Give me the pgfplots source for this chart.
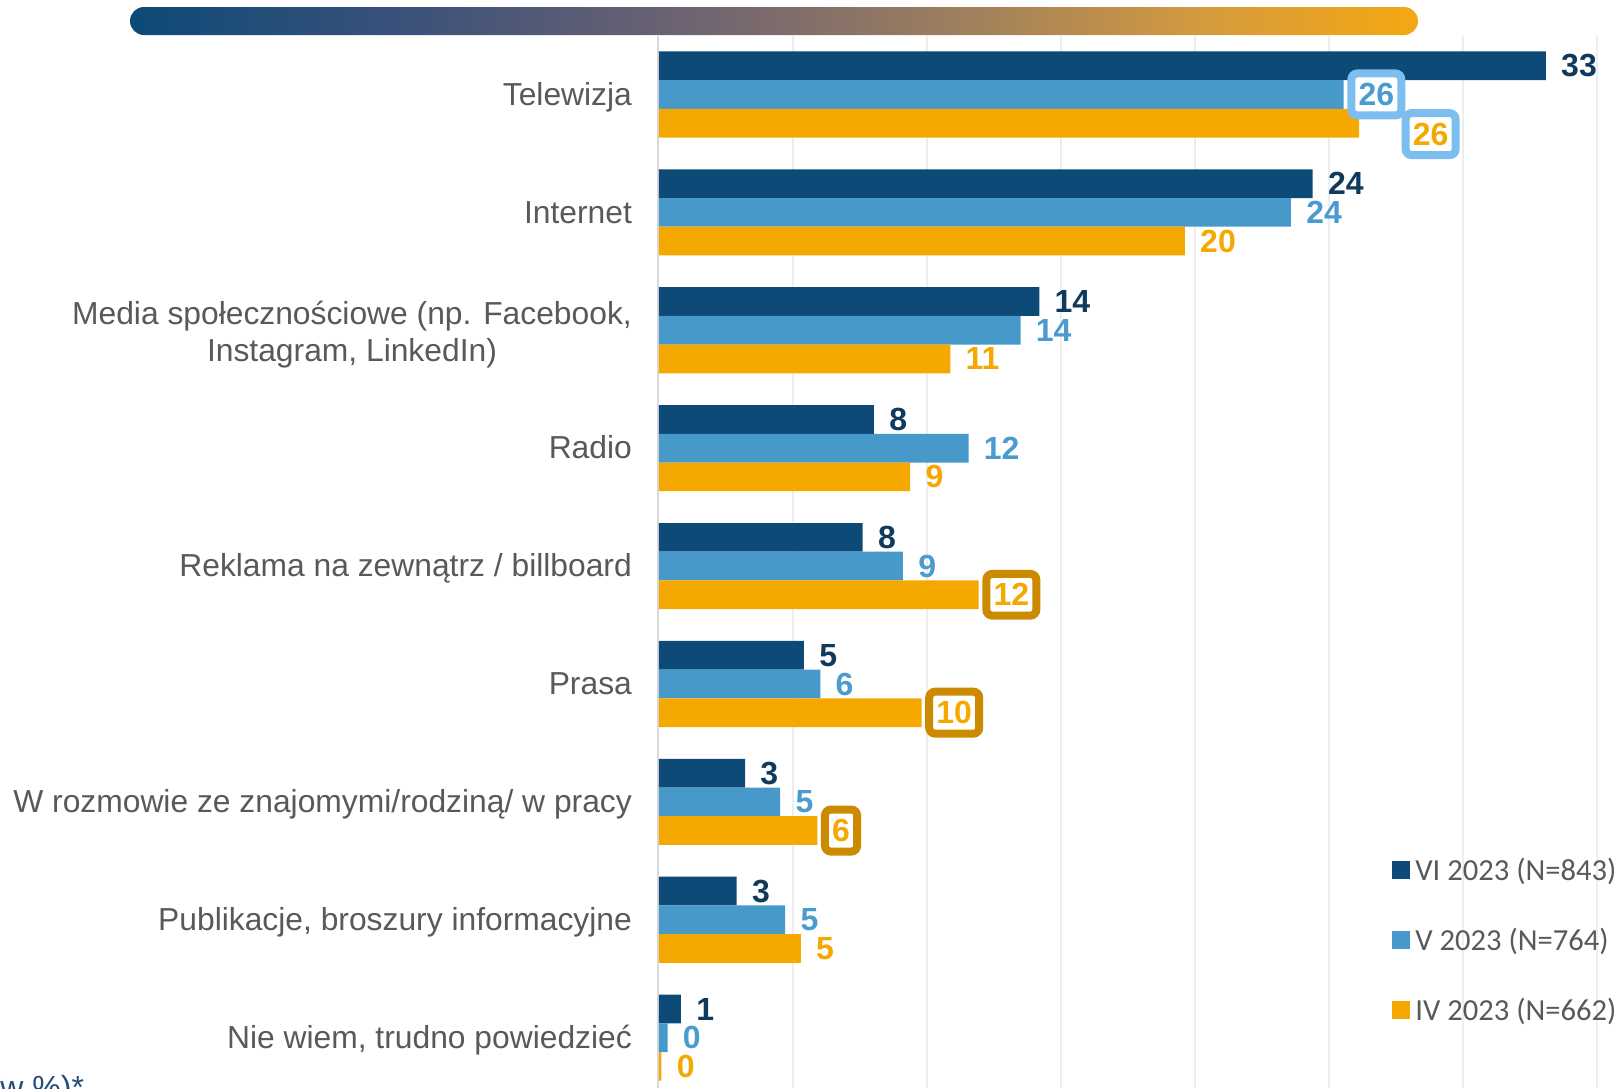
\documentclass[border=0pt]{standalone}
\usepackage{fontspec}
\setmainfont{Liberation Sans}
\newfontfamily\legfont{Carlito}
\usepackage{pgfplots}
\pgfplotsset{compat=1.18}
\usepackage{pgfplotstable}

\definecolor{cVI}{HTML}{0D4A77}
\definecolor{cV}{HTML}{4799C9}
\definecolor{cIV}{HTML}{F5A800}
\definecolor{tVI}{HTML}{0F3A5E}
\definecolor{tV}{HTML}{4A9BCE}
\definecolor{tIV}{HTML}{F5A800}
\definecolor{txt}{HTML}{595959}
\definecolor{gridc}{HTML}{EEEEEE}
\definecolor{axc}{HTML}{D9D9D9}
\definecolor{boxgold}{HTML}{CC8A00}
\definecolor{boxblue}{HTML}{7BBEEF}
\definecolor{navytxt}{HTML}{1F4E79}
\definecolor{g0}{HTML}{0D4A77}
\definecolor{g1}{HTML}{3C527A}
\definecolor{g2}{HTML}{6F6472}
\definecolor{g3}{HTML}{A2815C}
\definecolor{g4}{HTML}{D69B3C}
\definecolor{g5}{HTML}{F4A812}
\pgfdeclarehorizontalshading{topbar}{100bp}{color(0bp)=(g0); color(25bp)=(g0); color(36bp)=(g1); color(47bp)=(g2); color(58bp)=(g3); color(67bp)=(g4); color(75bp)=(g5); color(100bp)=(g5)}

% VI 2023
\pgfplotstableread{
x y lab
33.09 -0.2434 33
24.39 0.7566 24
14.19 1.7566 14
8.02 2.7566 8
7.60 3.7566 8
5.41 4.7566 5
3.21 5.7566 3
2.90 6.7566 3
0.82 7.7566 1
}\tVI
% V 2023
\pgfplotstableread{
x y lab
25.55 0 {}
23.58 1 24
13.49 2 14
11.55 3 12
9.10 4 9
6.02 5 6
4.52 6 5
4.71 7 5
0.32 8 0
}\tV
% IV 2023
\pgfplotstableread{
x y lab
26.12 0.2434 {}
19.62 1.2434 20
10.87 2.2434 11
9.37 3.2434 9
11.93 4.2434 {}
9.80 5.2434 {}
5.91 6.2434 {}
5.29 7.2434 5
0.09 8.2434 0
}\tIV
\pgfplotstableread{
x y lab
25.55 0 26
}\tVbox
\pgfplotstableread{
x y lab
26.12 0.2434 26
}\tIVboxblue
\pgfplotstableread{
x y lab
11.93 4.2434 12
9.80 5.2434 10
5.91 6.2434 6
}\tIVboxgold

\pgfplotsset{
  lab/.style={nodes near coords, nodes near coords style={font=\bfseries\fontsize{16}{16}\selectfont, text=#1, inner sep=0pt, anchor=west, xshift=7.5pt}},
  boxlab/.style n args={4}{forget plot, draw=none, fill=none, nodes near coords,
     nodes near coords style={font=\bfseries\fontsize{16}{16}\selectfont, text=#1, draw=#2, line width=4pt, fill=white, rounded corners=3pt, inner xsep=3.6pt, inner ysep=4.85pt, outer sep=2pt, anchor=west, xshift=#3, yshift=#4}},
}

\begin{document}
\begin{tikzpicture}
\useasboundingbox (0,0) rectangle (809pt,-544pt);
\shade[shading=topbar, rounded corners=7pt] (65pt,-3.5pt) rectangle (709pt,-17.5pt);
\node[anchor=base west, inner sep=0pt, text=navytxt, font=\fontsize{16}{16}\selectfont] at (-5.3pt,-549pt) {(w \%)*};
\begin{axis}[
  at={(329.5pt,-17.75pt)}, anchor=north west,
  scale only axis, width=469pt, height=526.25pt,
  xmin=0, xmax=35, ymin=-0.5, ymax=8.427, y dir=reverse,
  axis line style={draw=none},
  tick style={draw=none},
  xtick={5,10,...,35}, xticklabels={},
  xmajorgrids, major grid style={draw=gridc, line width=0.75pt},
  ytick={0,...,8},
  yticklabels={\strut Telewizja, \strut Internet, {\strut Media społecznościowe (np. Facebook,\\ Instagram, LinkedIn)}, \strut Radio, \strut Reklama na zewnątrz / billboard, \strut Prasa, \strut W rozmowie ze znajomymi/rodziną/ w pracy, {\strut Publikacje, broszury informacyjne}, {\strut Nie wiem, trudno powiedzieć}},
  yticklabel style={font=\fontsize{15.9}{18.6}\selectfont, text=txt, align=center, anchor=east, inner sep=0pt, xshift=-9.1pt, yshift=-1.6pt},
  xbar, bar width=14.35pt, bar shift=0pt,
  clip=false,
  point meta=explicit symbolic,
  legend style={at={(axis cs:27.35,6.47)}, anchor=north west, draw=none, fill=none, inner sep=0pt, font=\legfont\fontsize{15.3}{15.3}\selectfont, text=txt, row sep=22.3pt, column sep=2.5pt, nodes={inner sep=0pt}},
  legend cell align=left,
  legend image code/.code={\fill[#1] (0pt,-4.5pt) rectangle (9pt,4.5pt);},
]
\draw[axc, line width=1pt] ([xshift=-0.5pt]axis cs:0,-0.5) -- ([xshift=-0.5pt]axis cs:0,8.427);
\addplot[fill=cVI, draw=none, lab=tVI] table[x=x, y=y, meta=lab] {\tVI};
\addlegendentry{VI 2023 (N=843)}
\addplot[fill=cV, draw=none, lab=tV] table[x=x, y=y, meta=lab] {\tV};
\addlegendentry{V 2023 (N=764)}
\addplot[fill=cIV, draw=none, lab=tIV] table[x=x, y=y, meta=lab] {\tIV};
\addlegendentry{IV 2023 (N=662)}
\addplot[boxlab={tV}{boxblue}{1.8pt}{0pt}] table[x=x, y=y, meta=lab] {\tVbox};
\addplot[boxlab={tIV}{boxblue}{21.3pt}{-5.5pt}] table[x=x, y=y, meta=lab] {\tIVboxblue};
\addplot[boxlab={tIV}{boxgold}{1.8pt}{0pt}] table[x=x, y=y, meta=lab] {\tIVboxgold};
\end{axis}
\end{tikzpicture}
\end{document}
